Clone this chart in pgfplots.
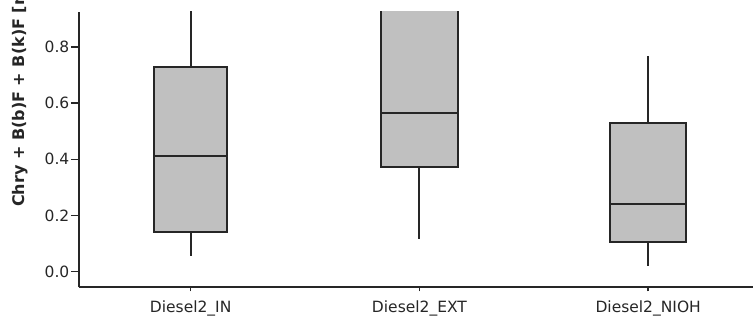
\documentclass[border=0pt]{standalone}
\usepackage{pgfplots}
\pgfplotsset{compat=1.18}
\usepgfplotslibrary{statistics}
\usepackage{fontspec}
\setmainfont{DejaVu Sans}
\definecolor{boxfill}{RGB}{192,192,192}
\definecolor{axcol}{RGB}{38,38,38}
\begin{document}
\begin{tikzpicture}
\begin{axis}[
  at={(79pt,32.7pt)}, anchor=south west,
  scale only axis, width=674pt, height=275.6pt,
  xmin=0.512, xmax=3.458, ymin=-0.0555, ymax=0.925,
  axis x line*=bottom, axis y line*=left,
  axis line style={axcol, line width=1.8pt},
  xtick={1,2,3}, xticklabels={Diesel2\_IN,Diesel2\_EXT,Diesel2\_NIOH},
  ytick={0,0.2,0.4,0.6,0.8},
  yticklabel style={/pgf/number format/fixed, /pgf/number format/fixed zerofill, /pgf/number format/precision=1},
  /pgf/number format/assume math mode=true,
  ticklabel style={font=\fontsize{15.5}{18}\selectfont, text=axcol},
  tick align=outside,
  major tick length=8pt,
  xtick style={/pgfplots/major tick length=4pt},
  tick style={axcol, line width=1.5pt},
  yticklabel style={inner sep=1.5pt},
  xticklabel style={inner sep=2pt, yshift=-3pt},
  boxplot/draw direction=y,
  boxplot/every whisker/.style={line width=2pt, draw=axcol},
  boxplot/every box/.style={line width=2pt, draw=axcol, fill=boxfill},
  boxplot/every median/.style={line width=2pt, draw=axcol},
]
\addplot[draw=axcol, fill=boxfill, line width=2pt, boxplot prepared={draw position=1, lower whisker=0.057, lower quartile=0.140, median=0.411, upper quartile=0.730, upper whisker=1.05, box extend=0.32, whisker extend=0}] coordinates {};
\addplot[draw=axcol, fill=boxfill, line width=2pt, boxplot prepared={draw position=2, lower whisker=0.115, lower quartile=0.374, median=0.566, upper quartile=1.10, upper whisker=1.5, box extend=0.34, whisker extend=0}] coordinates {};
\addplot[draw=axcol, fill=boxfill, line width=2pt, boxplot prepared={draw position=3, lower whisker=0.021, lower quartile=0.107, median=0.241, upper quartile=0.530, upper whisker=0.768, box extend=0.33, whisker extend=0}] coordinates {};
\end{axis}
\node[rotate=90, anchor=west, inner sep=0pt, font=\bfseries\fontsize{16}{18}\selectfont, text=axcol] at (20pt,113pt) {Chry + B(b)F + B(k)F [ng/m³]};
\pgfresetboundingbox
\path[use as bounding box] (0pt,0pt) rectangle (753pt,320pt);
\end{tikzpicture}
\end{document}
